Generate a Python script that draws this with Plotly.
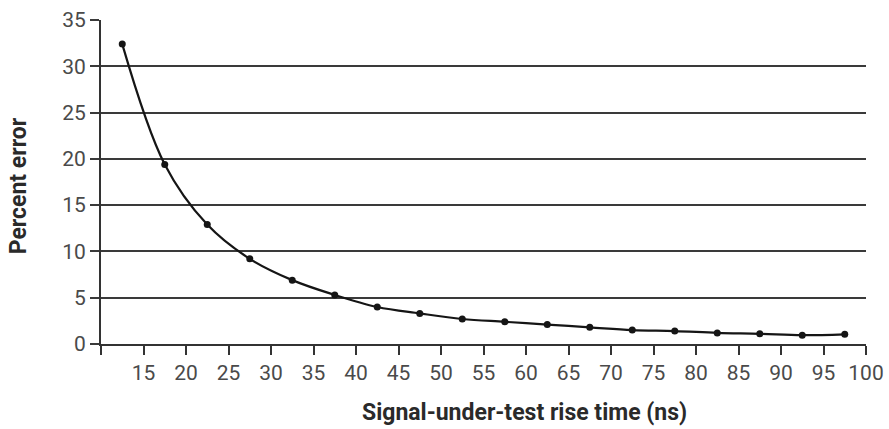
import plotly.graph_objects as go

rise_time_ns = [12.5, 17.5, 22.5, 27.5, 32.5, 37.5, 42.5, 47.5, 52.5, 57.5,
                62.5, 67.5, 72.5, 77.5, 82.5, 87.5, 92.5, 97.5]
percent_error = [32.4, 19.4, 12.9, 9.2, 6.9, 5.3, 4.0, 3.3, 2.7, 2.4,
                 2.1, 1.8, 1.5, 1.4, 1.2, 1.1, 0.95, 1.05]
x_ticks = list(range(10, 101, 5))
x_tick_text = [""] + [str(v) for v in x_ticks[1:]]
y_ticks = list(range(0, 36, 5))
x_title = "Signal-under-test rise time (ns)"
y_title = "Percent error"

font_family = "Roboto, Liberation Sans, sans-serif"

fig = go.Figure()
fig.add_trace(go.Scatter(
    x=rise_time_ns, y=percent_error, mode="lines+markers",
    line=dict(color="#151515", width=2.2, shape="spline", smoothing=1.0),
    marker=dict(color="#151515", size=7),
    showlegend=False, cliponaxis=False,
))

fig.update_layout(
    width=889, height=429,
    margin=dict(l=101, r=23, t=20, b=85),
    paper_bgcolor="white", plot_bgcolor="white",
    font=dict(family=font_family, color="#4a4a4a", size=21),
    annotations=[
        dict(text="<b>%s</b>" % x_title, xref="paper", yref="paper",
             x=0.554, y=-0.21, xanchor="center", yanchor="middle",
             showarrow=False, font=dict(size=23, color="#2a2a2a")),
        dict(text="<b>%s</b>" % y_title, xref="paper", yref="paper",
             x=-0.1085, y=0.49, xanchor="center", yanchor="middle",
             textangle=-90, showarrow=False, font=dict(size=23, color="#2a2a2a")),
    ],
)
fig.update_xaxes(
    range=[10, 100], tickvals=x_ticks, ticktext=x_tick_text,
    showgrid=False, zeroline=False, automargin=False,
    showline=True, linecolor="#333333", linewidth=2,
    ticks="outside", ticklen=9, tickwidth=2, tickcolor="#333333",
    tickfont=dict(size=21, color="#4a4a4a"),
)
fig.update_yaxes(
    range=[0, 35], tickvals=y_ticks,
    showgrid=True, gridcolor="#3a3a3a", gridwidth=1.8,
    zeroline=False, automargin=False,
    showline=True, linecolor="#333333", linewidth=2,
    ticks="outside", ticklen=9, tickwidth=1.8, tickcolor="#3a3a3a",
    tickfont=dict(size=21, color="#4a4a4a"),
)

fig.write_html("out.html", config={"displayModeBar": False},
               post_script="document.body.style.margin='0';")
